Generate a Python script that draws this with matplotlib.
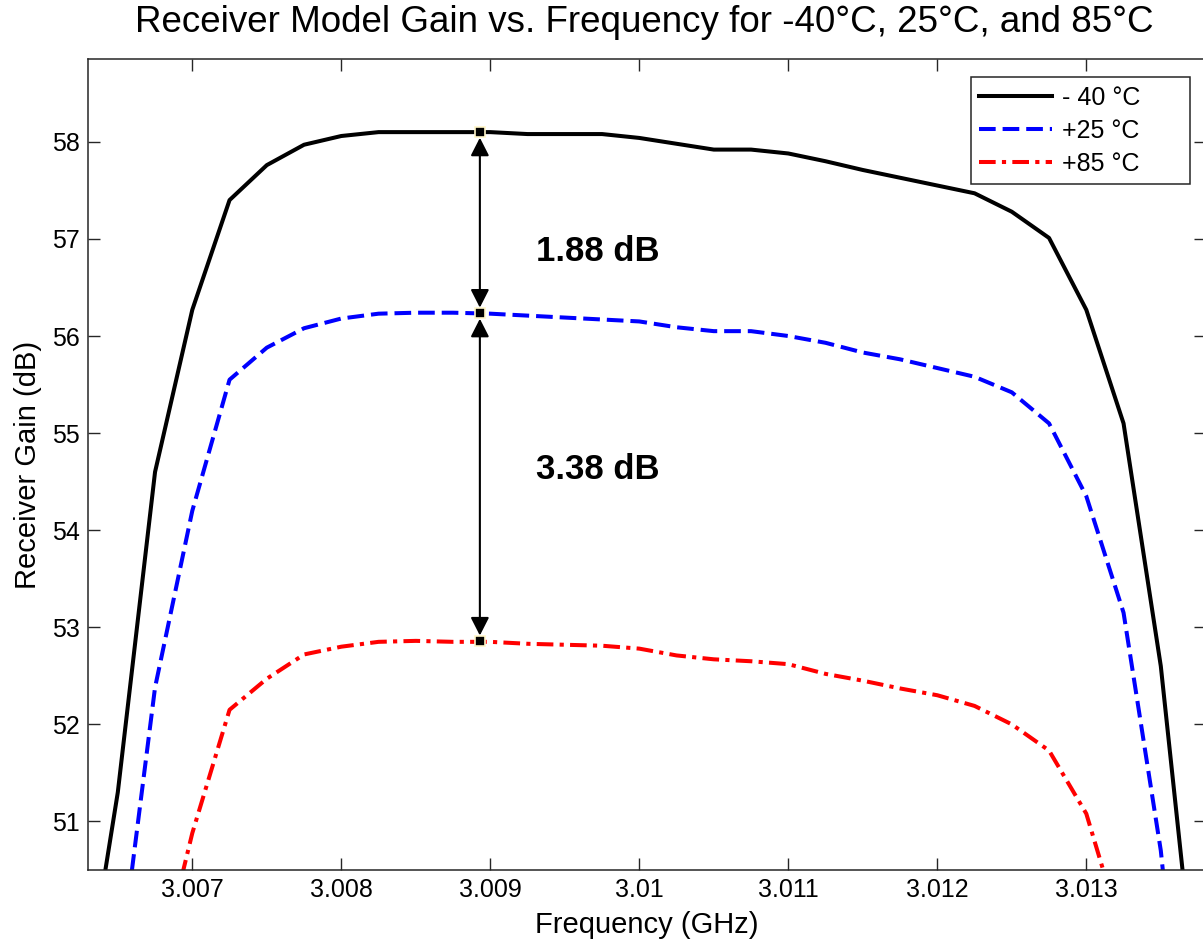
import numpy as np
import matplotlib
matplotlib.use("Agg")
import matplotlib.pyplot as plt
from matplotlib.ticker import FormatStrFormatter

plt.rcParams['font.family'] = ['Liberation Sans', 'DejaVu Sans']
plt.rcParams['lines.scale_dashes'] = False

# frequency grid (GHz), 0.25 MHz steps
freq = [3.00625, 3.0065, 3.00675, 3.007, 3.00725, 3.0075, 3.00775, 3.008,
        3.00825, 3.0085, 3.00875, 3.009, 3.00925, 3.0095, 3.00975, 3.01,
        3.01025, 3.0105, 3.01075, 3.011, 3.01125, 3.0115, 3.01175, 3.012,
        3.01225, 3.0125, 3.01275, 3.013, 3.01325, 3.0135, 3.01375]

gain_m40 = [48.9, 51.3, 54.6, 56.27, 57.40, 57.76, 57.97, 58.06,
            58.10, 58.10, 58.10, 58.10, 58.08, 58.08, 58.08, 58.04,
            57.98, 57.92, 57.92, 57.88, 57.80, 57.71, 57.63, 57.55,
            57.47, 57.28, 57.01, 56.27, 55.10, 52.6, 49.0]

gain_25 = [46.5, 49.35, 52.38, 54.2, 55.55, 55.88, 56.08, 56.18,
           56.23, 56.24, 56.24, 56.23, 56.21, 56.19, 56.17, 56.15,
           56.09, 56.05, 56.05, 56.00, 55.93, 55.83, 55.76, 55.67,
           55.58, 55.42, 55.10, 54.35, 53.15, 50.7, 47.0]

gain_85 = [44.0, 46.5, 49.3, 50.88, 52.15, 52.47, 52.72, 52.80,
           52.85, 52.86, 52.85, 52.85, 52.83, 52.82, 52.81, 52.78,
           52.71, 52.67, 52.65, 52.62, 52.52, 52.45, 52.37, 52.30,
           52.19, 52.00, 51.73, 51.08, 49.8, 47.0, 44.0]

labels = ['- 40 °C', '+25 °C', '+85 °C']

# marker / arrow annotation
mark_freq = 3.00893
mark_gain = [58.10, 56.235, 52.858]
diff_text = ['1.88 dB', '3.38 dB']
text_pos = [(3.00972, 56.866), (3.00972, 54.63)]

W, H = 1203, 940
fig = plt.figure(figsize=(W / 100, H / 100), dpi=100)
ax = fig.add_axes([88 / W, (H - 870) / H, 1117.5 / W, (870 - 59.3) / H])

ax.plot(freq, gain_m40, color='black', lw=2.9, label=labels[0])
ax.plot(freq, gain_25, color='#0000ff', lw=2.9, linestyle=(0, (12, 5)), label=labels[1])
ax.plot(freq, gain_85, color='#ff0000', lw=2.9, linestyle=(0, (12, 4.5, 3, 4.5)), label=labels[2])

# double-headed arrows between markers
for i in range(2):
    ax.annotate('', xy=(mark_freq, mark_gain[i + 1]), xytext=(mark_freq, mark_gain[i]),
                arrowprops=dict(arrowstyle='<|-|>,head_length=0.55,head_width=0.28',
                                lw=1.5, color='black', shrinkA=4, shrinkB=4,
                                mutation_scale=20), zorder=4)
ax.plot([mark_freq] * 3, mark_gain, linestyle='none', marker='s', ms=7,
        mfc='black', mec='#fff6c8', mew=1.2, zorder=5)

for t, (tx, ty) in zip(diff_text, text_pos):
    ax.text(tx, ty, t, fontsize=25, fontweight='bold', ha='center', va='center')

ax.set_xlim(3.0063, 3.0138)
ax.set_ylim(50.5, 58.85)
ax.set_xticks([3.007, 3.008, 3.009, 3.010, 3.011, 3.012, 3.013])
ax.set_yticks([51, 52, 53, 54, 55, 56, 57, 58])
ax.xaxis.set_major_formatter(FormatStrFormatter('%g'))
ax.tick_params(direction='in', length=8.6, width=1, top=True, right=True,
               labelsize=18, pad=6, color='#262626')
for s in ax.spines.values():
    s.set_linewidth(1.1)
    s.set_color('#262626')

ax.set_xlabel('Frequency (GHz)', fontsize=21, labelpad=6)
ax.set_ylabel('Receiver Gain (dB)', fontsize=21, labelpad=7)
fig.text(644 / W, 1 - 22 / H, 'Receiver Model Gain vs. Frequency for -40°C, 25°C, and 85°C',
         fontsize=26.5, ha='center', va='center')

leg_box = (970.7 / W, 1 - 184.3 / H, (1190 - 970.7) / W, (184.3 - 77.3) / H)
leg = ax.legend(loc='upper left', bbox_to_anchor=leg_box, mode='expand',
                bbox_transform=fig.transFigure, borderaxespad=0, fontsize=18,
                fancybox=False, framealpha=1, edgecolor='#262626',
                handlelength=2.9, handletextpad=0.4, labelspacing=0.35, borderpad=0.35)
leg.get_frame().set_linewidth(1.1)

fig.savefig('out.png', dpi=100)
